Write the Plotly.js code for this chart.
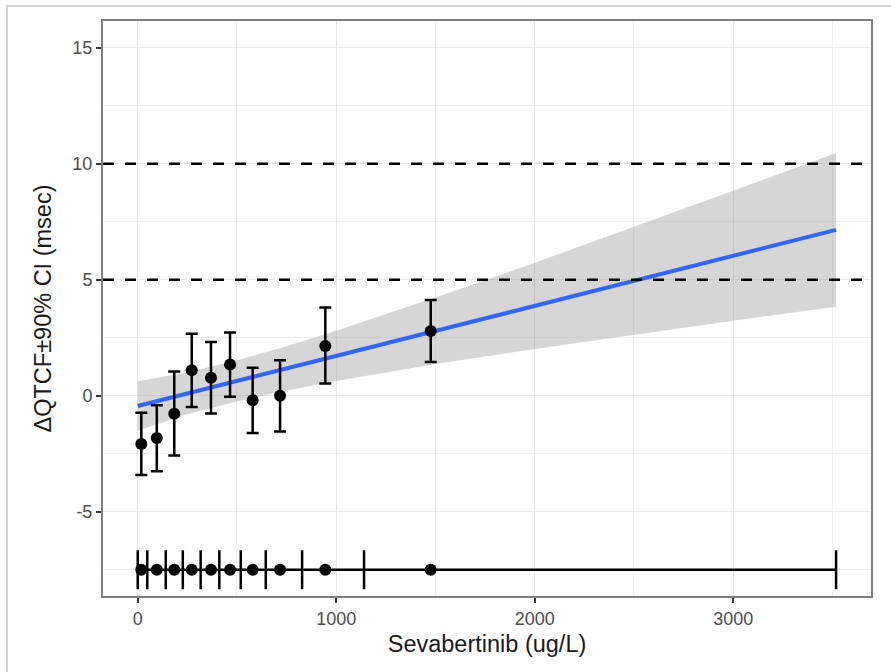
<!DOCTYPE html>
<html>
<head>
<meta charset="utf-8">
<script src="https://cdn.plot.ly/plotly-3.0.1.min.js"></script>
<style>
  html, body { margin: 0; padding: 0; background: #ffffff; }
  #wrap { position: relative; width: 891px; height: 672px; overflow: hidden; }
  #frame { position: absolute; left: 6px; top: 5px; width: 900px; height: 700px;
           border-left: 2px solid #d4d4d4; border-top: 2px solid #d4d4d4; pointer-events: none; z-index: 5; }
  #chart { position: absolute; left: 0; top: 0; width: 891px; height: 672px; }
</style>
</head>
<body>
<div id="wrap">
  <div id="chart"></div>
  <div id="frame"></div>
</div>
<script>
// Concentration-bin medians (ug/L) and observed ΔQTcF with 90% CI
const binMedian = [18, 96, 184, 272, 369, 465, 579, 717, 945, 1476];
const dqtcf     = [-2.08, -1.82, -0.78, 1.10, 0.78, 1.35, -0.19, 0.00, 2.14, 2.79];
const ciLow     = [-3.42, -3.25, -2.57, -0.49, -0.76, -0.04, -1.61, -1.54, 0.53, 1.45];
const ciHigh    = [-0.73, -0.41, 1.05, 2.67, 2.32, 2.73, 1.21, 1.53, 3.80, 4.13];

// Concentration bin boundaries (exposure strip)
const binEdges = [0, 48, 141, 227, 317, 411, 519, 645, 828, 1140, 3518];
const stripY = -7.5;
const edgeHalf = 0.84;

// Model fit line and its 90% CI band
const fitX = [0, 3518];
const fitY = [-0.44, 7.15];
const bandX     = [0, 250, 500, 750, 1000, 1500, 2000, 2500, 3000, 3518];
const bandUpper = [0.63, 1.00, 1.53, 2.13, 2.80, 4.23, 5.73, 7.27, 8.83, 10.46];
const bandLower = [-1.51, -0.80, -0.25, 0.23, 0.64, 1.37, 2.01, 2.63, 3.23, 3.84];

// Reference thresholds (msec)
const thresholds = [5, 10];

const xTicks = [0, 1000, 2000, 3000];
const yTicks = [-5, 0, 5, 10, 15];

const FONT = '"Liberation Sans", Arial, Helvetica, sans-serif';

const traces = [
  { // CI band
    x: bandX.concat(bandX.slice().reverse()),
    y: bandUpper.concat(bandLower.slice().reverse()),
    type: 'scatter', mode: 'lines', fill: 'toself',
    fillcolor: 'rgba(153,153,153,0.4)', line: {width: 0, color: 'rgba(0,0,0,0)'},
    hoverinfo: 'skip', showlegend: false
  },
  { // fit line
    x: fitX, y: fitY, type: 'scatter', mode: 'lines',
    line: {color: '#3366FF', width: 4}, showlegend: false
  },
  { // observed points with CI
    x: binMedian, y: dqtcf, type: 'scatter', mode: 'markers',
    marker: {color: '#000000', size: 12},
    error_y: {type: 'data', symmetric: false,
      array: ciHigh.map((v, i) => v - dqtcf[i]),
      arrayminus: dqtcf.map((v, i) => v - ciLow[i]),
      color: '#000000', thickness: 2.5, width: 6},
    showlegend: false
  },
  { // exposure strip line
    x: [binEdges[0], binEdges[binEdges.length - 1]], y: [stripY, stripY],
    type: 'scatter', mode: 'lines', line: {color: '#000000', width: 2.5}, showlegend: false
  },
  { // bin edges
    x: binEdges, y: binEdges.map(() => stripY), type: 'scatter', mode: 'markers',
    marker: {size: 1, color: 'rgba(0,0,0,0)'},
    error_y: {type: 'constant', value: edgeHalf, color: '#000000', thickness: 2.5, width: 0},
    showlegend: false
  },
  { // bin medians on strip
    x: binMedian, y: binMedian.map(() => stripY), type: 'scatter', mode: 'markers',
    marker: {color: '#000000', size: 12}, showlegend: false
  }
];

const shapes = thresholds.map(t => ({
  type: 'line', xref: 'paper', yref: 'y', x0: 0, x1: 1, y0: t, y1: t,
  line: {color: '#000000', width: 2.5, dash: '11px,11px'}, layer: 'above'
}));

const layout = {
  width: 891, height: 672,
  margin: {l: 103, r: 20, t: 21, b: 76, pad: 0},
  paper_bgcolor: '#ffffff', plot_bgcolor: '#ffffff',
  font: {family: FONT, color: '#000000'},
  showlegend: false,
  shapes: shapes,
  xaxis: {
    range: [-175, 3694], tickvals: xTicks, ticktext: xTicks.map(String),
    ticks: 'outside', ticklen: 5, tickwidth: 2, tickcolor: '#333333',
    tickfont: {size: 18, color: '#4d4d4d', family: FONT},
    showgrid: true, gridcolor: '#e8e8e8', gridwidth: 1.4,
    minor: {dtick: 500, tick0: 0, showgrid: true, gridcolor: '#f0f0f0', gridwidth: 1, ticks: ''},
    zeroline: false, showline: true, linecolor: '#7f7f7f', linewidth: 2, mirror: true,
    title: {text: 'Sevabertinib (ug/L)', font: {size: 23.5, color: '#1a1a1a', family: FONT}, standoff: 8}
  },
  yaxis: {
    range: [-8.63, 16.15], tickvals: yTicks, ticktext: yTicks.map(String),
    ticks: 'outside', ticklen: 5, tickwidth: 2, tickcolor: '#333333',
    tickfont: {size: 18, color: '#4d4d4d', family: FONT},
    showgrid: true, gridcolor: '#e8e8e8', gridwidth: 1.4,
    minor: {dtick: 2.5, tick0: 0, showgrid: true, gridcolor: '#f0f0f0', gridwidth: 1, ticks: ''},
    zeroline: false, showline: true, linecolor: '#7f7f7f', linewidth: 2, mirror: true,
    title: {text: 'ΔQTCF±90% CI (msec)', font: {size: 23.5, color: '#1a1a1a', family: FONT}, standoff: 14}
  }
};

Plotly.newPlot('chart', traces, layout, {displayModeBar: false, staticPlot: true});
</script>
</body>
</html>
